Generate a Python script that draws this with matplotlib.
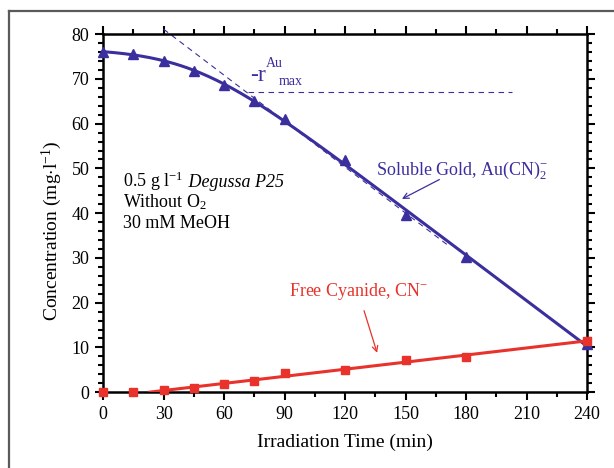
import numpy as np
import matplotlib.pyplot as plt
from matplotlib.lines import Line2D
from matplotlib.ticker import MultipleLocator

plt.rcParams['font.family'] = ['Liberation Serif', 'DejaVu Serif']
plt.rcParams['mathtext.fontset'] = 'custom'
plt.rcParams['mathtext.rm'] = 'Liberation Serif'
plt.rcParams['mathtext.it'] = 'Liberation Serif:italic'

# irradiation times (min)
time = [0, 15, 30, 45, 60, 75, 90, 120, 150, 180, 240]
# soluble gold Au(CN)2- (mg/l)
gold = [76.0, 75.6, 74.0, 71.7, 68.7, 65.0, 61.0, 51.8, 39.6, 30.2, 10.8]
# free cyanide CN- (mg/l)
cyanide = [0.0, 0.1, 0.4, 0.9, 1.9, 2.4, 4.3, 4.9, 7.3, 7.9, 11.4]

# max-rate tangent and its reference level
tangent_x = [30, 172]
tangent_y = [81.1, 32.5]
rmax_x = [72, 203]
rmax_y = [67.0, 67.0]

blue = '#3b2f9e'
red = '#e8322b'


def softplus_fit(t, y):
    # C = C0 - k*s*ln(1 + exp((t - t0)/s)), grid over t0, s; lstsq for C0, k
    best = None
    for t0 in np.arange(0, 160, 1.0):
        for s in np.arange(4, 120, 1.0):
            f = s * np.log1p(np.exp((t - t0) / s))
            A = np.column_stack([np.ones_like(t), -f])
            coef, res, *_ = np.linalg.lstsq(A, y, rcond=None)
            err = np.sum((A @ coef - y) ** 2)
            if best is None or err < best[0]:
                best = (err, t0, s, coef)
    _, t0, s, (c0, k) = best
    return lambda x: c0 - k * s * np.log1p(np.exp((x - t0) / s))


fig = plt.figure(figsize=(6.14, 4.68), dpi=100)
ax = fig.add_axes([0.168, 0.162, 0.788, 0.765])

t = np.array(time, float)
g = np.array(gold)
c = np.array(cyanide)

tt = np.linspace(0, 240, 300)
gfit = softplus_fit(t, g)(tt)
mask = t >= 30
cfit = np.polyval(np.polyfit(t[mask], c[mask], 1), tt)
keep = cfit >= 0

ax.plot(tangent_x, tangent_y, ls=(0, (5, 4)), lw=0.8, color=blue, zorder=2, clip_on=False)
ax.plot(rmax_x, rmax_y, ls=(0, (5, 4)), lw=0.8, color=blue, zorder=2)

ax.plot(tt, gfit, color=blue, lw=2.2, zorder=3)
ax.plot(t, g, ls='none', marker='^', ms=7, color=blue, clip_on=False, zorder=4)
ax.plot(tt[keep], cfit[keep], color=red, lw=2.2, zorder=5)
ax.plot(t, c, ls='none', marker='s', ms=6, color=red, clip_on=False, zorder=6)

ax.set_xlim(0, 240)
ax.set_ylim(0, 80)
ax.xaxis.set_major_locator(MultipleLocator(30))
ax.xaxis.set_minor_locator(MultipleLocator(15))
ax.yaxis.set_major_locator(MultipleLocator(10))
ax.yaxis.set_minor_locator(MultipleLocator(2))

for s in ax.spines.values():
    s.set_linewidth(1.8)
ax.tick_params(which='both', top=True, right=True, labelsize=13, width=1.5, pad=4)
ax.tick_params(which='major', length=6)
ax.tick_params(which='minor', length=3.5)
ax.tick_params(axis='x', which='both', direction='out')
ax.tick_params(axis='y', which='both', direction='out')

ax.set_xlabel('Irradiation Time (min)', fontsize=14, labelpad=8)
ax.set_ylabel(r'Concentration (mg$\cdot$l$^{-1}$)', fontsize=14)
ax.yaxis.set_label_coords(-0.08, 0.45)

# annotations
ax.text(73, 69.6, '-r', color=blue, fontsize=17)
ax.text(80.8, 72.6, 'Au', color=blue, fontsize=10)
ax.text(87.3, 68.6, 'max', color=blue, fontsize=10)

ax.text(135.5, 48.6, r'Soluble Gold, Au(CN)$_2^{-}$', color=blue, fontsize=13)
ax.annotate('', xy=(147, 42.9), xytext=(168, 47.8),
            arrowprops=dict(arrowstyle='->', color=blue, lw=0.9))

ax.text(92.2, 21.6, r'Free Cyanide, CN$^{-}$', color=red, fontsize=13)
ax.annotate('', xy=(136.3, 8.2), xytext=(129, 18.8),
            arrowprops=dict(arrowstyle='->', color=red, lw=0.9))

# conditions block; catalyst name in italics on the same baseline
cond = ax.text(10, 45.9, r'0.5 g l$^{-1}$', fontsize=13)
fig.canvas.draw()
x_end = ax.transData.inverted().transform(
    (cond.get_window_extent().x1, 0))[0]
ax.text(x_end, 45.9, ' Degussa P25', fontsize=13, style='italic')
ax.text(10, 41.4, r'Without O$_2$', fontsize=13)
ax.text(10, 36.6, '30 mM MeOH', fontsize=13)

# outer frame
fig.add_artist(Line2D([9 / 614, 9 / 614], [0, 1 - 11 / 468], color='#5a5a5a', lw=1.6))
fig.add_artist(Line2D([9 / 614, 1], [1 - 11 / 468, 1 - 11 / 468], color='#5a5a5a', lw=1.6))

fig.savefig('out.png', dpi=100)
